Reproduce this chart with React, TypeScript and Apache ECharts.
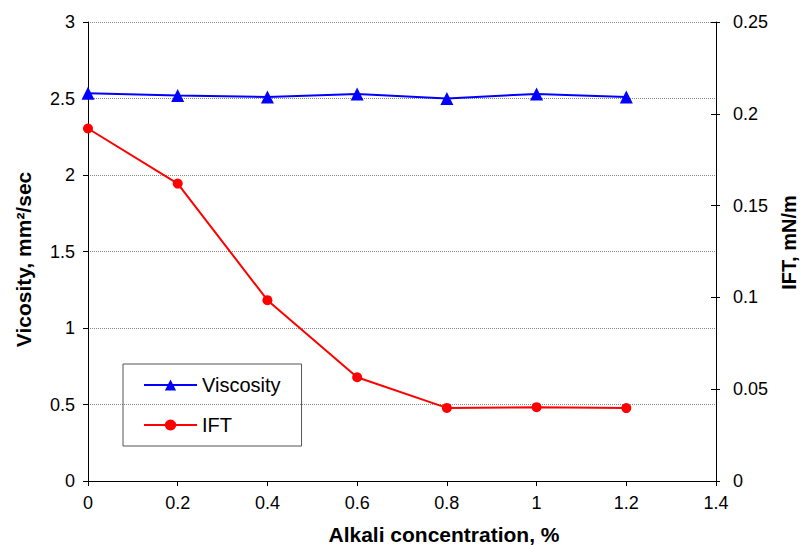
import React, { useEffect, useRef } from "react";
import * as echarts from "echarts";

const concentration = [0, 0.2, 0.4, 0.6, 0.8, 1.0, 1.2];
const viscosity = [2.535, 2.52, 2.51, 2.53, 2.5, 2.53, 2.51];
const ift = [0.192, 0.162, 0.0985, 0.0565, 0.0398, 0.0402, 0.0397];

const FONT = "Liberation Sans, Arial, sans-serif";

export default function App() {
  const ref = useRef<HTMLDivElement>(null);
  useEffect(() => {
    if (!ref.current) return;
    const chart = echarts.init(ref.current, null, { renderer: "svg" });
    chart.setOption({
      animation: false,
      backgroundColor: "#fff",
      grid: {
        left: 88,
        right: 87,
        top: 22,
        bottom: 64,
        containLabel: false,
        outerBoundsMode: "none",
      },
      legend: {
        orient: "vertical",
        left: 123,
        top: 364,
        padding: [11, 21, 11, 20],
        borderColor: "#555",
        borderWidth: 1,
        itemWidth: 53,
        itemHeight: 14,
        itemGap: 20,
        textStyle: { fontFamily: FONT, fontSize: 20, color: "#000" },
        data: ["Viscosity", "IFT"],
      },
      xAxis: {
        type: "value",
        min: 0,
        max: 1.4,
        interval: 0.2,
        name: "Alkali concentration, %",
        nameLocation: "middle",
        nameGap: 43,
        nameTextStyle: {
          fontFamily: FONT,
          fontSize: 21,
          fontWeight: "bold",
          color: "#000",
          padding: [0, 0, 0, 84],
        },
        axisLine: { onZero: false, lineStyle: { color: "#000", width: 1 } },
        axisTick: { show: true, inside: false, length: 5, lineStyle: { color: "#000" } },
        axisLabel: {
          fontFamily: FONT,
          fontSize: 18,
          color: "#000",
          margin: 13,
          formatter: (v: number) => String(Math.round(v * 10) / 10),
        },
        splitLine: { show: false },
      },
      yAxis: [
        {
          type: "value",
          min: 0,
          max: 3,
          interval: 0.5,
          position: "left",
          name: "Vicosity, mm²/sec",
          nameLocation: "middle",
          nameGap: 54,
          nameRotate: 90,
          nameTextStyle: {
            fontFamily: FONT,
            fontSize: 21,
            fontWeight: "bold",
            color: "#000",
            padding: [0, 16, 0, 0],
          },
          axisLine: { show: true, lineStyle: { color: "#000", width: 1 } },
          axisTick: { show: true, inside: false, length: 5, lineStyle: { color: "#000" } },
          axisLabel: { fontFamily: FONT, fontSize: 18, color: "#000", margin: 13 },
          splitLine: { show: true, lineStyle: { color: "#888", type: "dotted", width: 1 } },
        },
        {
          type: "value",
          min: 0,
          max: 0.25,
          interval: 0.05,
          position: "right",
          name: "IFT, mN/m",
          nameLocation: "middle",
          nameGap: 63,
          nameRotate: 90,
          nameTextStyle: {
            fontFamily: FONT,
            fontSize: 20,
            fontWeight: "bold",
            color: "#000",
            padding: [0, 0, 0, 18],
          },
          axisLine: { show: true, lineStyle: { color: "#000", width: 1 } },
          axisTick: { show: true, inside: false, length: 4, lineStyle: { color: "#000" } },
          axisLabel: { fontFamily: FONT, fontSize: 18, color: "#000", margin: 17 },
          splitLine: { show: false },
        },
        {
          type: "value",
          min: 0,
          max: 0.25,
          interval: 0.05,
          position: "right",
          axisLine: { show: false },
          axisTick: { show: true, inside: true, length: 5, lineStyle: { color: "#000" } },
          axisLabel: { show: false },
          splitLine: { show: false },
        },
      ],
      series: [
        {
          name: "Viscosity",
          type: "line",
          yAxisIndex: 0,
          data: concentration.map((x, i) => [x, viscosity[i]]),
          symbol: "triangle",
          symbolSize: 13,
          lineStyle: { color: "#0000ff", width: 2 },
          itemStyle: { color: "#0000ff" },
          z: 3,
        },
        {
          name: "IFT",
          type: "line",
          yAxisIndex: 1,
          data: concentration.map((x, i) => [x, ift[i]]),
          symbol: "circle",
          symbolSize: 10,
          lineStyle: { color: "#ff0000", width: 2 },
          itemStyle: { color: "#ff0000" },
          z: 3,
        },
      ],
    });
    return () => chart.dispose();
  }, []);
  return <div ref={ref} style={{ width: 803, height: 545, position: "absolute", left: 0, top: 0 }} />;
}
